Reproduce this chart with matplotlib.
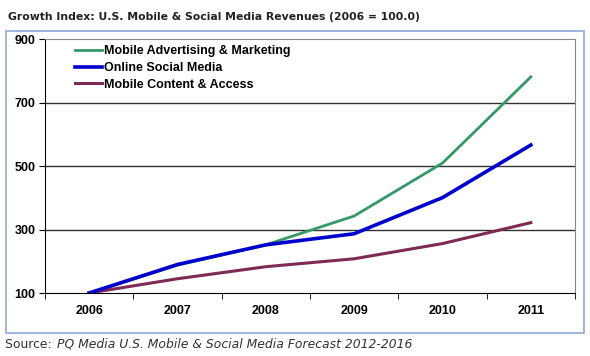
import matplotlib.pyplot as plt
from matplotlib.patches import Rectangle

# data
years = ['2006', '2007', '2008', '2009', '2010', '2011']
mobile_adv = [100, 188, 252, 343, 510, 782]
social = [100, 190, 252, 287, 401, 567]
mobile_content = [100, 145, 183, 208, 256, 322]
y_ticks = [100, 300, 500, 700, 900]

fig = plt.figure(figsize=(5.9, 3.56), dpi=100)

# light blue outer box
fig.patches.append(Rectangle((6 / 590, 1 - 333 / 356), 578 / 590, 302 / 356,
                             transform=fig.transFigure, fill=False,
                             edgecolor='#8eaadb', linewidth=1.2))

ax = fig.add_axes([45 / 590, 1 - 293 / 356, 530 / 590, (293 - 39.5) / 356])
x = range(len(years))
ax.plot(x, mobile_adv, color='#339966', lw=2, label='Mobile Advertising & Marketing', zorder=3)
ax.plot(x, social, color='#0000cc', lw=2.6, label='Online Social Media', zorder=4)
ax.plot(x, mobile_content, color='#7f2a55', lw=2.2, label='Mobile Content & Access', zorder=3)

ax.set_xlim(-0.5, 5.5)
ax.set_ylim(100, 900)
ax.set_yticks(y_ticks)
ax.set_xticks(list(x))
ax.set_xticklabels(years)
ax.set_xticks([i - 0.5 for i in range(len(years) + 1)], minor=True)
ax.tick_params(axis='x', which='major', length=0, pad=9)
ax.tick_params(axis='x', which='minor', length=4, direction='out', color='black')
ax.tick_params(axis='y', length=4, direction='out', pad=3)
for lab in ax.get_xticklabels() + ax.get_yticklabels():
    lab.set_fontfamily('Liberation Sans')
    lab.set_fontweight('bold')
    lab.set_fontsize(9)

for v in y_ticks[1:-1]:
    ax.axhline(v, color='#333333', lw=1, zorder=1)
ax.spines['top'].set_color('#888888')
ax.spines['right'].set_color('#888888')

leg = ax.legend(loc='upper left', bbox_to_anchor=(0.04, 1.012), frameon=False,
                prop={'family': 'Liberation Sans', 'weight': 'bold', 'size': 9},
                handlelength=2.2, handletextpad=0.15, labelspacing=0.38, borderpad=0.2)

fig.text(8 / 590, 1 - 17 / 356, 'Growth Index: U.S. Mobile & Social Media Revenues (2006 = 100.0)',
         fontfamily='DejaVu Sans', fontweight='bold', fontsize=7.8, color='#222222', va='center')
fig.text(5 / 590, 1 - 344 / 356, 'Source: ', fontfamily='DejaVu Sans', fontsize=8.9,
         color='#333333', va='center')
fig.text(57 / 590, 1 - 344 / 356, 'PQ Media U.S. Mobile & Social Media Forecast 2012-2016',
         fontfamily='DejaVu Sans', fontstyle='italic', fontsize=8.9, color='#333333', va='center')

fig.savefig('out.png', dpi=100)
